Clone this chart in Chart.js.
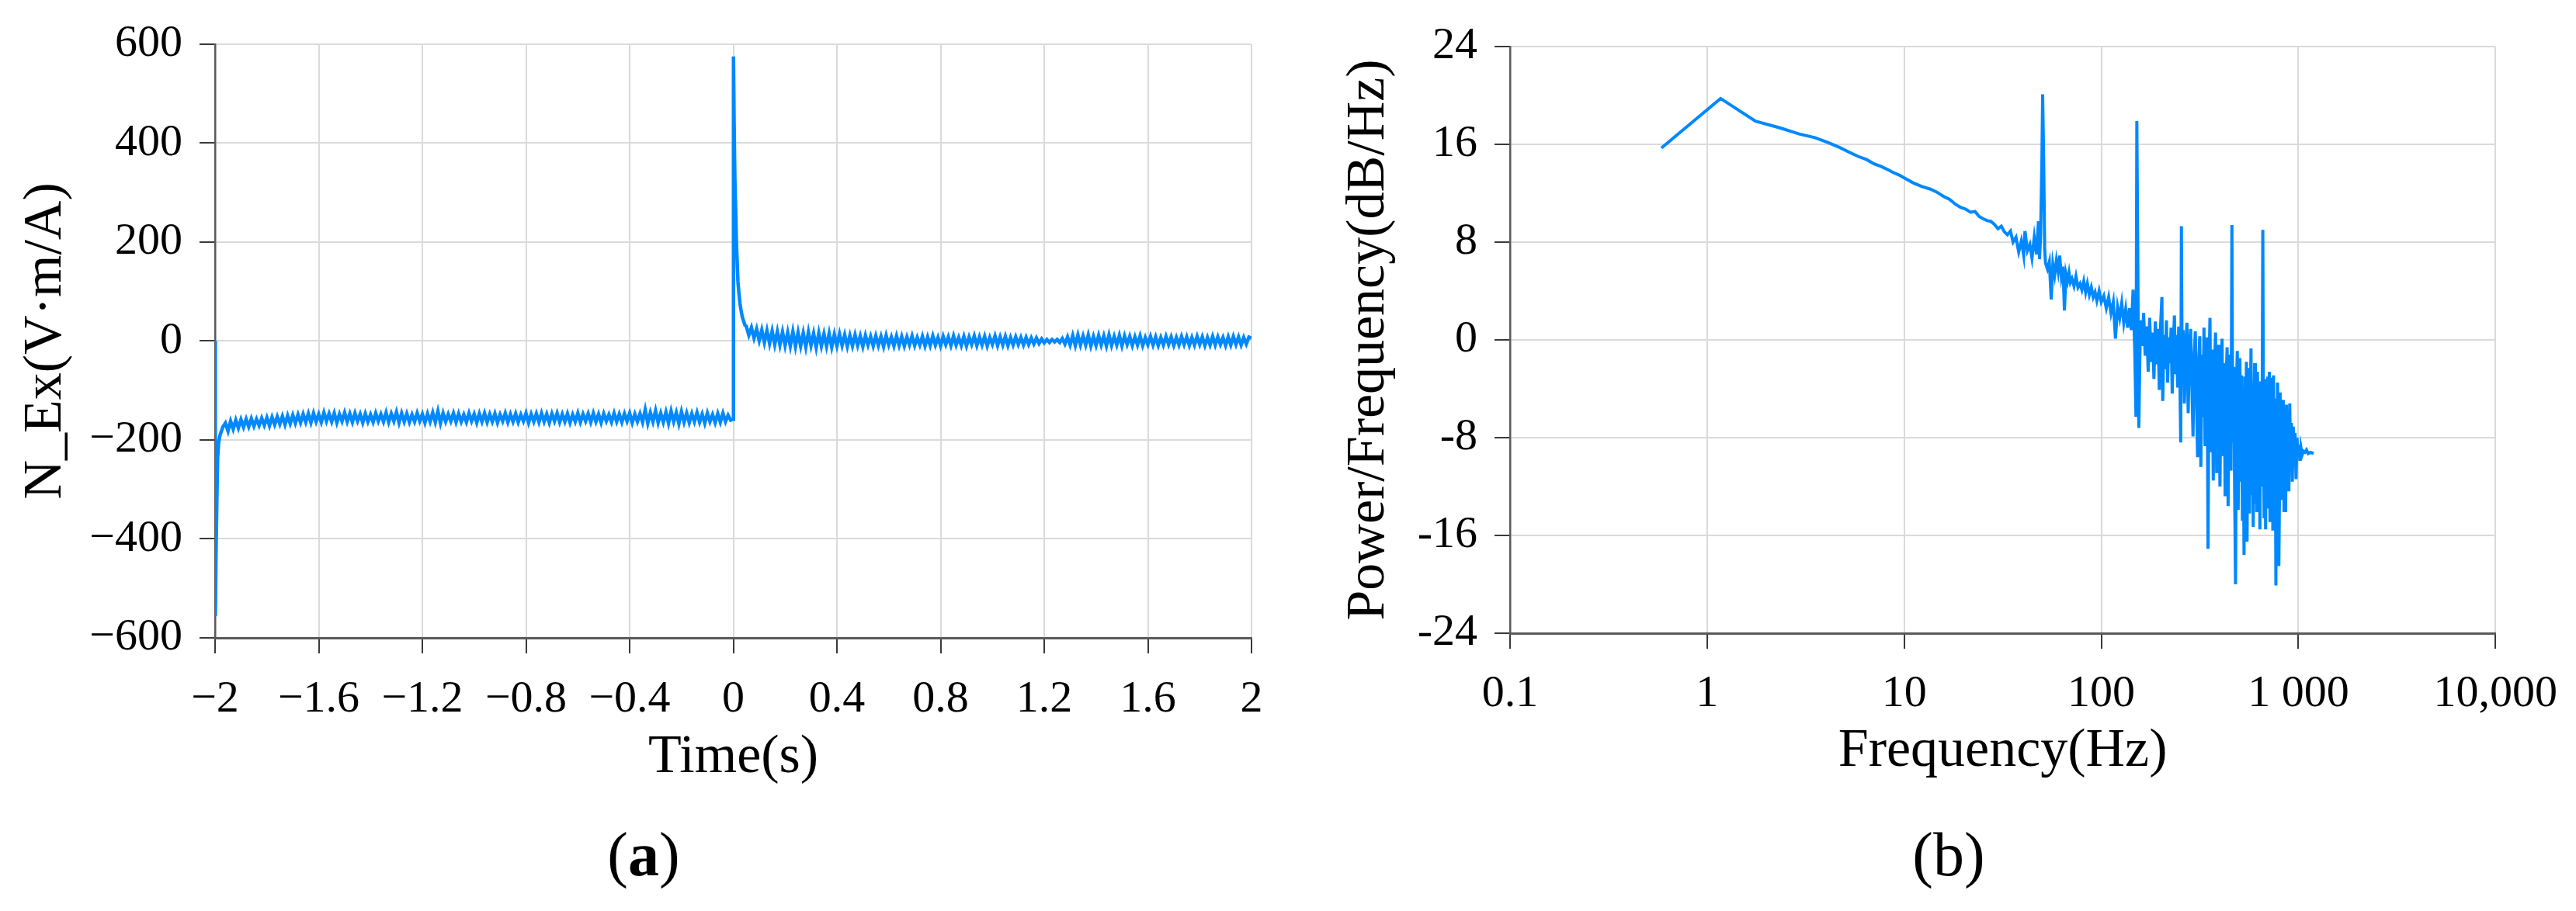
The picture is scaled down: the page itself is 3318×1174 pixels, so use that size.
<!DOCTYPE html>
<html><head><meta charset="utf-8">
<script src="https://cdn.jsdelivr.net/npm/chart.js@4/dist/chart.umd.min.js"></script>
<style>
html,body{margin:0;padding:0;background:#fff;}
#wrap{position:relative;width:3318px;height:1174px;overflow:hidden;background:#fff;}
#cA{position:absolute;left:0;top:0;}
#cB{position:absolute;left:1700px;top:0;}
.lab{position:absolute;font-family:"Liberation Serif","Times New Roman",serif;font-size:80px;line-height:1;color:#000;white-space:nowrap;transform:translate(-50%,-50%);}
</style></head>
<body><div id="wrap">
<canvas id="cA" width="1700" height="1174"></canvas>
<canvas id="cB" width="1618" height="1174"></canvas>
<div class="lab" style="left:829px;top:1101px;">(<b>a</b>)</div>
<div class="lab" style="left:2510px;top:1101px;">(b)</div>
</div>
<script>
// ---------- Panel (a): N_Ex time series ----------
const timeTicks = [-2, -1.6, -1.2, -0.8, -0.4, 0, 0.4, 0.8, 1.2, 1.6, 2];
const timeTickLabels = ["\u22122", "\u22121.6", "\u22121.2", "\u22120.8", "\u22120.4", "0", "0.4", "0.8", "1.2", "1.6", "2"];
const exTicks = [-600, -400, -200, 0, 200, 400, 600];
const exTickLabels = ["\u2212600", "\u2212400", "\u2212200", "0", "200", "400", "600"];

// transient at switch-off (t = -2 s)
const startT = [-2, -1.999, -1.996, -1.993, -1.99, -1.986, -1.982, -1.978, -1.974, -1.97];
const startV = [0, -556, -420, -320, -235, -205, -193, -186, -180, -174];

// steady part before t = 0, sampled every 0.01 s from -1.96 s
const preStart = -1.96;
const sampleStep = 0.01;
const preVals = [
  -166, -182, -162, -178, -160, -176, -159, -174, -158, -173,
  -157, -172, -158, -171, -156, -170, -155, -171, -154, -169,
  -153, -168, -152, -169, -151, -167, -150, -166, -149, -165,
  -148, -164, -147, -165, -146, -163, -148, -164, -145, -162,
  -147, -163, -146, -165, -148, -162, -145, -163, -147, -164,
  -146, -162, -148, -165, -147, -163, -149, -164, -146, -162,
  -148, -163, -145, -164, -147, -162, -144, -165, -146, -163,
  -147, -164, -149, -163, -146, -162, -148, -165, -147, -163,
  -145, -164, -142, -166, -146, -163, -148, -162, -146, -164,
  -147, -163, -149, -164, -146, -162, -148, -165, -147, -163,
  -146, -164, -148, -163, -147, -165, -149, -162, -146, -164,
  -148, -163, -147, -164, -149, -162, -146, -165, -148, -163,
  -147, -164, -146, -163, -148, -165, -147, -162, -146, -164,
  -148, -163, -147, -165, -149, -163, -146, -164, -148, -162,
  -147, -164, -146, -163, -148, -165, -147, -162, -149, -164,
  -146, -163, -148, -164, -147, -162, -146, -165, -148, -163,
  -147, -164, -139, -166, -145, -163, -141, -165, -146, -164,
  -144, -166, -142, -163, -145, -167, -143, -164, -146, -165,
  -147, -163, -145, -164, -148, -166, -146, -163, -149, -165,
  -147, -164, -146, -163, -150, -160
];

// transient at switch-on (t = 0 s)
const zeroT = [0, 0.0008, 0.003, 0.006, 0.009, 0.012, 0.015, 0.018, 0.022, 0.026, 0.03, 0.035, 0.04, 0.045];
const zeroV = [-158, 575, 450, 330, 270, 200, 160, 120, 95, 75, 62, 48, 40, 32];

// steady part after t = 0, sampled every 0.01 s from 0.05 s
const postStart = 0.05;
const postVals = [
  30, 12, 27, 6, 24, 1, 22, -3, 21, -5,
  20, -7, 19, -8, 18, -9, 17, -10, 19, -11,
  17, -10, 16, -12, 18, -9, 15, -13, 16, -10,
  14, -11, 15, -12, 13, -10, 14, -9, 12, -11,
  11, -10, 12, -9, 10, -11, 11, -8, 9, -10,
  10, -9, 9, -11, 11, -8, 8, -10, 10, -9,
  9, -10, 8, -8, 10, -9, 7, -8, 9, -10,
  8, -9, 10, -8, 7, -10, 9, -7, 8, -9,
  10, -8, 7, -9, 9, -10, 8, -7, 10, -9,
  8, -8, 9, -10, 7, -7, 10, -9, 8, -8,
  9, -9, 7, -8, 8, -7, 7, -8, 7, -7,
  6, -6, 6, -5, 4, -4, 3, -3, 3, -2,
  3, -3, 5, -6, 8, -8, 11, -9, 12, -8,
  10, -8, 12, -10, 9, -9, 11, -8, 10, -10,
  12, -9, 9, -8, 11, -10, 10, -7, 9, -9,
  8, -8, 10, -9, 7, -7, 9, -8, 8, -9,
  7, -8, 9, -7, 8, -9, 7, -8, 9, -7,
  8, -9, 7, -8, 9, -7, 8, -9, 7, -8,
  9, -8, 8, -7, 7, -9, 8, -8, 9, -7,
  8, -8, 7, -6, 8, 6
];

// ---------- Panel (b): power spectral density ----------
const freqTicks = [0.1, 1, 10, 100, 1000, 10000];
const freqTickLabels = ["0.1", "1", "10", "100", "1 000", "10,000"];
const dbTicks = [-24, -16, -8, 0, 8, 16, 24];
const dbTickLabels = ["-24", "-16", "-8", "0", "8", "16", "24"];

const psdFreq = [
  0.586, 1.17, 1.76, 2.34, 2.93, 3.52, 4.10, 4.69, 5.27, 5.86,
  6.45, 7.03, 7.62, 8.20, 8.79, 9.38, 10.0, 11.1, 12.3, 13.5,
  14.6, 15.8, 17.0, 18.2, 19.3, 20.5, 21.7, 22.9, 24.0, 25.2,
  26.4, 27.5, 28.7, 29.9, 31.1, 32.2, 33.4, 34.6, 35.7, 36.9,
  38.1, 39.3, 40.4, 41.0, 42.2, 43.4, 44.5, 45.7, 46.9, 48.0,
  48.6, 49.2, 50.0, 50.4, 51.0, 51.6, 52.1, 53.3, 54.5, 55.7,
  56.8, 58.0, 59.2, 60.4, 61.5, 62.7, 63.9, 65.0, 66.2, 67.4,
  68.6, 69.7, 71.0, 72.7, 74.4, 76.2, 78.0, 79.7, 81.5, 83.3,
  85.0, 87.0, 89.0, 91.0, 93.0, 95.0, 97.5, 100, 103, 106,
  109, 112, 115, 118, 121, 124, 127, 130, 133, 136,
  139, 142, 145, 148, 150, 151.5, 153, 155, 158, 161,
  164, 167, 170, 173, 176, 179, 182, 185, 188, 191,
  194, 197, 200, 203, 205, 208, 211, 214, 217, 220,
  223, 226, 229, 232, 235, 238, 241, 244, 247, 250,
  253, 255, 257, 260, 264, 268, 272, 276, 280, 284,
  288, 292, 296, 300, 304, 308, 312, 316, 320, 324,
  328, 332, 336, 340, 344, 348, 352, 356, 360, 365,
  370, 375, 380, 385, 390, 395, 400, 405, 410, 415,
  420, 425, 430, 435, 440, 445, 450, 455, 460, 462,
  466, 470, 475, 480, 485, 490, 495, 500, 505, 510,
  515, 520, 525, 530, 535, 540, 545, 549, 555, 560,
  565, 570, 575, 580, 585, 590, 595, 600, 605, 610,
  615, 620, 626, 632, 638, 644, 650, 656, 660, 664,
  670, 676, 682, 688, 694, 700, 706, 712, 718, 724,
  730, 736, 742, 748, 754, 760, 766, 769, 773, 778,
  784, 790, 796, 802, 808, 815, 822, 830, 838, 846,
  854, 862, 870, 878, 886, 895, 904, 913, 922, 932,
  942, 952, 962, 973, 984, 995, 1006, 1018, 1030, 1045,
  1060, 1080, 1100, 1120, 1150, 1195
];
const psdDb = [
  15.7, 19.75, 17.9, 17.35, 16.85, 16.55, 16.15, 15.75, 15.35, 15.0,
  14.75, 14.4, 14.2, 13.95, 13.7, 13.5, 13.25, 12.85, 12.55, 12.35,
  12.1, 11.75, 11.5, 11.1, 10.85, 10.7, 10.45, 10.5, 10.1, 9.9,
  9.75, 9.7, 9.45, 9.1, 9.3, 8.85, 8.6, 8.9, 8.0, 8.4,
  7.2, 8.1, 6.9, 8.9, 7.3, 7.8, 6.7, 8.4, 7.0, 9.7,
  6.6, 8.5, 15.0, 20.1, 14.8, 7.5, 6.3, 5.8, 6.4, 3.3,
  6.2, 5.3, 6.5, 5.6, 6.9, 5.2, 6.0, 2.4, 5.4, 4.8,
  5.5, 4.7, 5.0, 4.4, 5.2, 4.3, 4.6, 4.1, 4.8, 3.9,
  4.6, 3.7, 4.3, 3.5, 3.9, 3.2, 4.0, 3.1, 3.6, 2.6,
  3.5, 2.2, 3.1, 0.1, 2.7, 1.8, 3.0, 1.4, 2.5, 1.0,
  2.6, 0.8, 4.1, -1.2, -6.3, 17.9, 8.0, -7.2, 1.6, -0.5,
  2.2, -1.3, 1.1, -2.6, 1.8, -1.8, 0.6, -3.2, 1.5, -2.0,
  0.9, -4.1, 1.2, 3.5, -5.0, 0.4, -2.4, 1.6, -3.5, 0.2,
  -1.9, 1.0, -4.4, -0.5, 2.0, -2.8, 0.4, -3.9, 1.1, -2.2,
  -8.4, 9.3, -1.5, 0.8, -5.2, -0.7, 1.4, -6.0, -1.1, 0.9,
  -3.4, -7.9, -1.4, 0.7, -4.6, -9.6, -2.0, 0.3, -10.4, -1.2,
  -6.3, 1.0, -8.7, -3.1, 0.2, -17.1, -2.4, 1.8, -9.2, -0.8,
  -11.5, -2.7, 0.6, -10.9, -3.5, -0.4, -12.0, -4.1, 0.1, -9.5,
  -1.9, -12.8, -3.3, -0.6, -13.6, -5.0, -1.2, -10.7, 9.4, 0.3,
  -8.4, -2.2, -12.5, -20.0, -3.8, -0.9, -13.9, -4.4, -1.5, -11.6,
  -2.9, -14.8, -5.6, -17.6, -3.0, -10.2, -1.8, -16.5, -4.7, -2.3,
  -14.2, -5.8, -0.7, -12.7, -3.6, -15.3, -6.1, -1.9, -13.4, -4.0,
  -14.1, -2.6, -9.9, -5.3, -15.5, -3.4, -12.0, -2.9, 9.0, -4.1,
  -14.6, -3.2, -15.5, -5.7, -13.8, -3.0, -10.4, -2.6, -14.9, -4.5,
  -12.2, -3.1, -15.6, -2.9, -11.0, -5.2, -12.0, -20.1, -4.8, -13.0,
  -3.5, -9.7, -18.5, -12.4, -4.3, -10.6, -5.6, -13.1, -4.9, -14.1,
  -6.2, -14.1, -5.3, -10.9, -6.6, -12.4, -5.2, -10.1, -6.8, -11.6,
  -7.1, -10.3, -7.6, -11.4, -8.0, -9.6, -8.6, -9.9, -8.8, -9.4,
  -9.1, -9.2, -9.0, -9.3, -9.2, -9.3
];

// ---------- build datasets ----------
const exSeries = [];
startT.forEach((t, i) => exSeries.push({x: t, y: startV[i]}));
preVals.forEach((v, i) => exSeries.push({x: preStart + i * sampleStep, y: v}));
zeroT.forEach((t, i) => exSeries.push({x: t, y: zeroV[i]}));
postVals.forEach((v, i) => exSeries.push({x: postStart + i * sampleStep, y: v}));

const psdSeries = psdFreq.map((f, i) => ({x: f, y: psdDb[i]}));

// ---------- styling ----------
const lineBlue = 'rgb(0,136,255)';
const gridGray = '#dadada';
const axisGray = '#5a5a5a';
const tickDark = '#3a3a3a';
const serif = '"Liberation Serif", "Times New Roman", serif';

function setTicks(values) {
  return function (scale) { scale.ticks = values.map(v => ({value: v})); };
}
function axisStyle(tickVals, tickLabels, fixedSize, isX, pad, title, titlePad) {
  return {
    afterBuildTicks: setTicks(tickVals),
    afterFit: s => { if (isX) s.height = fixedSize; else s.width = fixedSize; },
    grid: {color: gridGray, lineWidth: 2, drawTicks: true, tickLength: 20, tickColor: tickDark, tickWidth: 2},
    border: {display: true, color: axisGray, width: isX ? 3 : 2.5},
    ticks: {
      autoSkip: false, maxRotation: 0, minRotation: 0, padding: pad, color: '#000',
      font: {family: serif, size: 58},
      callback: (v, i) => tickLabels[i]
    },
    title: {display: true, text: title, color: '#000', font: {family: serif, size: 70}, padding: titlePad}
  };
}

const common = {
  responsive: false, animation: false, events: [],
  plugins: {legend: {display: false}, tooltip: {enabled: false}}
};

new Chart(document.getElementById('cA'), {
  type: 'line',
  data: {datasets: [{data: exSeries, borderColor: lineBlue, borderWidth: 4.5, pointRadius: 0, tension: 0, fill: false}]},
  options: Object.assign({}, common, {
    layout: {padding: {left: 0, top: 52, right: 88, bottom: 0}},
    scales: {
      x: Object.assign({type: 'linear', min: -2, max: 2},
        axisStyle(timeTicks, timeTickLabels, 352, true, 25, 'Time(s)', {top: 0, bottom: 155})),
      y: Object.assign({type: 'linear', min: -600, max: 600},
        axisStyle(exTicks, exTickLabels, 277, false, 22, 'N_Ex(V\u00B7m/A)', {top: 18, bottom: 0}))
    }
  })
});

new Chart(document.getElementById('cB'), {
  type: 'line',
  data: {datasets: [{data: psdSeries, borderColor: lineBlue, borderWidth: 4, pointRadius: 0, tension: 0, fill: false}]},
  options: Object.assign({}, common, {
    layout: {padding: {left: 0, top: 60, right: 101, bottom: 0}},
    scales: {
      x: Object.assign({type: 'logarithmic', min: 0.1, max: 10000},
        axisStyle(freqTicks, freqTickLabels, 358, true, 24, 'Frequency(Hz)', {top: 0, bottom: 163})),
      y: Object.assign({type: 'linear', min: -24, max: 24},
        axisStyle(dbTicks, dbTickLabels, 245, false, 22, 'Power/Frequency(dB/Hz)', {top: 22, bottom: 0}))
    }
  })
});
</script>
</body></html>
